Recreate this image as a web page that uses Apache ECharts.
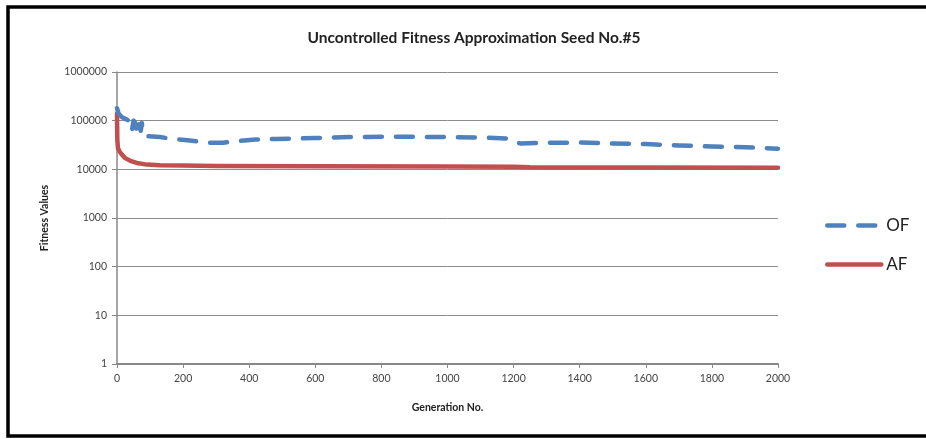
<!DOCTYPE html>
<html>
<head>
<meta charset="utf-8">
<script src="https://cdn.jsdelivr.net/npm/echarts@6/dist/echarts.min.js"></script>
<style>
  html, body { margin: 0; padding: 0; background: #fff; }
  #chart { width: 926px; height: 439px; }
</style>
</head>
<body>
<div id="chart"></div>
<script>
// Generation numbers and fitness values for the original fitness (OF)
const ofGenerations = [0, 5, 15, 30, 40, 45, 50, 55, 60, 63, 68, 72, 75, 78, 82, 90, 130, 170, 220, 280, 320, 360, 420, 480, 540, 600, 700, 800, 900, 1000, 1100, 1180, 1220, 1300, 1400, 1500, 1600, 1700, 1800, 1900, 2000];
const ofValues = [180000, 140000, 118000, 105000, 95000, 62000, 100000, 90000, 62000, 95000, 100000, 62000, 90000, 65000, 55000, 48000, 46000, 42000, 39000, 35000, 35000, 38000, 41000, 42000, 43000, 44000, 46000, 46500, 46500, 46000, 45000, 43000, 34000, 35000, 35500, 34000, 33000, 31000, 29500, 28500, 26500];

// Generation numbers and fitness values for the approximated fitness (AF)
const afGenerations = [0, 1, 3, 8, 15, 25, 40, 60, 90, 130, 200, 300, 600, 1000, 1200, 1250, 1600, 2000];
const afValues = [140000, 40000, 27000, 23000, 20000, 17000, 15000, 13500, 12500, 12200, 12000, 11700, 11600, 11500, 11300, 11000, 10900, 10800];

const seriesNames = ['OF', 'AF'];
const titleText = 'Uncontrolled Fitness Approximation Seed No.#5';
const xAxisName = 'Generation No.';
const yAxisName = 'Fitness Values';

const zip = (xs, ys) => xs.map((x, i) => [x, ys[i]]);
const plain = (v) => String(v);

const font = 'Lato, "Open Sans", sans-serif';
const chart = echarts.init(document.getElementById('chart'), null, { renderer: 'canvas' });

chart.setOption({
  backgroundColor: '#fff',
  animation: false,
  title: {
    text: titleText,
    left: 469,
    textAlign: 'center',
    top: 25,
    textStyle: { fontFamily: font, fontSize: 15.5, fontWeight: 'bold', color: '#222' }
  },
  legend: {
    orient: 'vertical',
    left: 820,
    top: 212,
    itemWidth: 54,
    itemHeight: 14,
    itemGap: 22,
    itemStyle: { opacity: 0 },
    lineStyle: { width: 4.5, cap: 'round' },
    textStyle: { fontFamily: font, fontSize: 17, color: '#222' },
    data: seriesNames
  },
  grid: { left: 117, right: 148, top: 72, bottom: 75 },
  xAxis: {
    type: 'value',
    min: 0, max: 2000, interval: 200,
    name: xAxisName,
    nameLocation: 'middle',
    nameGap: 38,
    nameTextStyle: { fontFamily: font, fontSize: 10.5, fontWeight: 'bold', color: '#222' },
    axisLine: { lineStyle: { color: '#888', width: 2 } },
    axisTick: { show: true, length: 4, lineStyle: { color: '#888' } },
    axisLabel: { fontFamily: font, fontSize: 10.5, color: '#444', margin: 9, formatter: plain },
    splitLine: { show: false }
  },
  yAxis: {
    type: 'log',
    logBase: 10,
    min: 1, max: 1000000,
    name: yAxisName,
    nameLocation: 'middle',
    nameGap: 67,
    nameRotate: 90,
    nameTextStyle: { fontFamily: font, fontSize: 10.5, fontWeight: 'bold', color: '#222' },
    axisLine: { show: true, lineStyle: { color: '#888', width: 1.5 } },
    axisTick: { show: true, length: 5, lineStyle: { color: '#888' } },
    axisLabel: { fontFamily: font, fontSize: 10.5, color: '#444', margin: 10, formatter: plain },
    splitLine: { show: true, lineStyle: { color: '#8c8c8c', width: 1 } }
  },
  series: [
    {
      name: seriesNames[0],
      type: 'line',
      data: zip(ofGenerations, ofValues),
      showSymbol: false,
      symbol: 'none',
      z: 3,
      lineStyle: { color: '#4F81BD', width: 4.5, type: [17, 14], cap: 'round', join: 'round' },
      itemStyle: { color: '#4F81BD' }
    },
    {
      name: seriesNames[1],
      type: 'line',
      data: zip(afGenerations, afValues),
      showSymbol: false,
      symbol: 'none',
      z: 2,
      lineStyle: { color: '#C0504D', width: 4.5, cap: 'round', join: 'round' },
      itemStyle: { color: '#C0504D' }
    }
  ],
  graphic: [
    {
      type: 'rect',
      silent: true,
      shape: { x: 8, y: 7, width: 1000, height: 429 },
      style: { fill: 'none', stroke: '#000', lineWidth: 3.5 }
    }
  ]
});
</script>
</body>
</html>
